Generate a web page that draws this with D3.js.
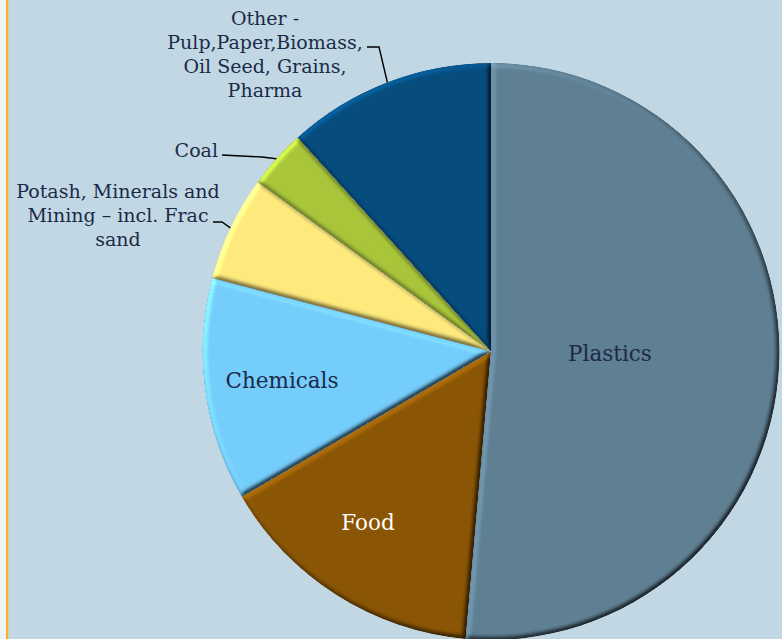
<!DOCTYPE html>
<html>
<head>
<meta charset="utf-8">
<script src="https://cdn.jsdelivr.net/npm/d3@7"></script>
<style>
  html, body { margin: 0; padding: 0; background: #c1d7e4; }
  svg { display: block; }
</style>
</head>
<body>
<svg id="chart" width="782" height="639"></svg>
<script>
// Share of volume by end market
const categories = ["Plastics", "Food", "Chemicals",
  "Potash, Minerals and Mining – incl. Frac sand", "Coal",
  "Other - Pulp,Paper,Biomass, Oil Seed, Grains, Pharma"];
const shares = [51.4, 15.2, 12.5, 5.9, 3.3, 11.7];
const colors = ["#5f7f93", "#8a5505", "#75cdfb", "#fde97c", "#a9c53a", "#064c7d"];

// Label text, line by line
const labelLines = [
  ["Plastics"],
  ["Food"],
  ["Chemicals"],
  ["Potash, Minerals and", "Mining – incl. Frac", "sand"],
  ["Coal"],
  ["Other -", "Pulp,Paper,Biomass,", "Oil Seed, Grains,", "Pharma"]
];

const W = 782, H = 639;
const cx = 491, cy = 351.5, R = 288.5;

const svg = d3.select("#chart");

// backdrop with the narrow accent rule at the left
svg.append("rect").attr("width", W).attr("height", H).attr("fill", "#c1d7e4");
svg.append("rect").attr("x", 0).attr("y", 0).attr("width", 6).attr("height", H).attr("fill", "#eef3f7");
svg.append("rect").attr("x", 6).attr("y", 0).attr("width", 2.2).attr("height", H).attr("fill", "#f7b420");

// soft bevel lit from the upper left
const defs = svg.append("defs");
const f = defs.append("filter").attr("id", "bevel")
  .attr("x", "-5%").attr("y", "-5%").attr("width", "110%").attr("height", "110%")
  .attr("color-interpolation-filters", "sRGB");
f.append("feGaussianBlur").attr("in", "SourceAlpha").attr("stdDeviation", 2.6).attr("result", "b");
f.append("feDiffuseLighting").attr("in", "b").attr("surfaceScale", 4)
  .attr("diffuseConstant", 1).attr("lighting-color", "#ffffff").attr("result", "light")
  .append("feDistantLight").attr("azimuth", 225).attr("elevation", 45);
f.append("feComposite").attr("in", "SourceGraphic").attr("in2", "light")
  .attr("operator", "arithmetic").attr("k1", 0.92).attr("k2", 0.35).attr("k3", 0).attr("k4", 0)
  .attr("result", "lit");
f.append("feComposite").attr("in", "lit").attr("in2", "SourceAlpha").attr("operator", "in");

const data = categories.map((c, i) => ({ name: c, value: shares[i], color: colors[i], lines: labelLines[i] }));

const pie = d3.pie().sort(null).value(d => d.value);
const arcs = pie(data);
const arc = d3.arc().innerRadius(0).outerRadius(R);

const g = svg.append("g").attr("transform", `translate(${cx},${cy})`);

g.selectAll("path.slice")
  .data(arcs)
  .join("path")
  .attr("class", "slice")
  .attr("d", arc)
  .attr("fill", d => d.data.color)
  .attr("filter", "url(#bevel)");

const font = "DejaVu Serif, Georgia, serif";
const textColor = "#1c2a48";

// labels placed inside the larger slices
const inside = [
  { i: 0, x: 610, y: 353, fill: textColor },
  { i: 1, x: 368, y: 522, fill: "#ffffff" },
  { i: 2, x: 282, y: 380, fill: textColor }
];
inside.forEach(l => {
  svg.append("text")
    .attr("x", l.x).attr("y", l.y)
    .attr("text-anchor", "middle").attr("dominant-baseline", "central")
    .attr("font-family", font).attr("font-size", 21.5)
    .attr("fill", l.fill)
    .text(arcs[l.i].data.lines[0]);
});

// labels outside the small slices, with leader lines
const outside = [
  { i: 3, tx: 118, ty: 191, elbow: [222, 222], end: [213, 222] },
  { i: 4, tx: 218, ty: 150, elbow: [262, 157], end: [222, 155], anchor: "end" },
  { i: 5, tx: 265, ty: 18, elbow: [379, 47], end: [367, 47] }
];
const lh = 24;
outside.forEach(l => {
  const a = arcs[l.i];
  const mid = (a.startAngle + a.endAngle) / 2;
  const px = cx + R * Math.sin(mid), py = cy - R * Math.cos(mid);
  svg.append("polyline")
    .attr("points", [[px, py], l.elbow, l.end].map(p => p.join(",")).join(" "))
    .attr("fill", "none").attr("stroke", "#000").attr("stroke-width", 1.4);
  const t = svg.append("text")
    .attr("font-family", font).attr("font-size", 19)
    .attr("fill", textColor)
    .attr("text-anchor", l.anchor || "middle");
  a.data.lines.forEach((s, k) => {
    t.append("tspan").attr("x", l.tx).attr("y", l.ty + k * lh)
      .attr("dominant-baseline", "central").text(s);
  });
});
</script>
</body>
</html>
